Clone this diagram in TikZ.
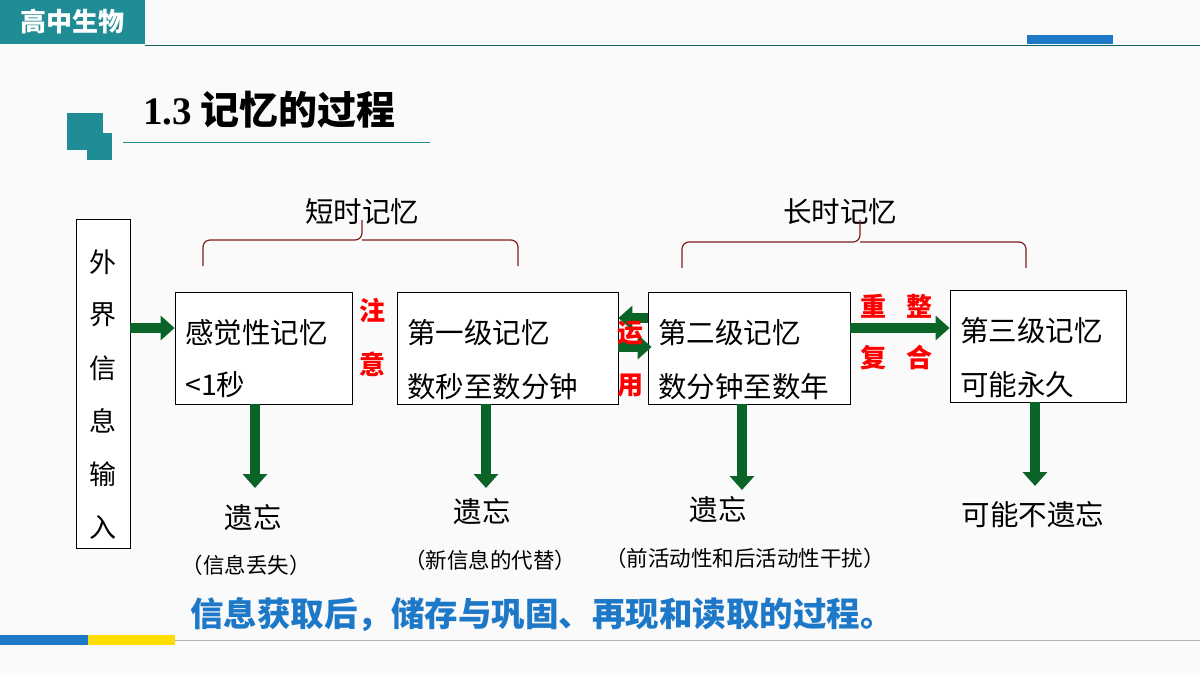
\documentclass[tikz,border=0pt]{standalone}
\usepackage{fontspec}
\setmainfont{Noto Sans CJK SC}
\newfontfamily\serifnum{Liberation Serif}
\usetikzlibrary{arrows.meta}
\definecolor{teal1}{RGB}{32,140,150}
\definecolor{arrowgreen}{RGB}{10,100,40}
\definecolor{bracered}{RGB}{130,30,30}
\definecolor{textblue}{RGB}{30,120,200}
\newcommand{\fs}[1]{\fontsize{#1}{#1}\selectfont}

\begin{document}
\begin{tikzpicture}[x=1pt,y=-1pt,
    memory/.style={draw=black, line width=0.8pt, fill=white},
    flow/.style={draw=arrowgreen, line width=10pt, -{Triangle[length=14pt,width=24pt]}},
    boxtext/.style={anchor=west, font=\fs{28.5}, inner sep=0pt},
    redword/.style={text=red, font=\fs{26}\bfseries, inner sep=0pt},
    forget/.style={font=\fs{28.5}, inner sep=0pt},
    cause/.style={font=\fs{21.5}, inner sep=0pt},
    brace/.style={draw=bracered, line width=1.2pt, rounded corners=7pt}
]
\useasboundingbox[fill=gray!4] (0,0) rectangle (1200,675);

% header
\fill[teal1] (0,0) rectangle (145,44);
\node[text=white, font=\fs{26}\bfseries] (subject) at (72,22) {高中生物};
\draw[teal1!70!black, line width=0.8pt] (145,45) -- (1200,45);
\fill[textblue] (1027,35) rectangle (1113,44);

% title
\fill[teal1] (67,113) rectangle (103,150);
\fill[teal1] (87,133) rectangle (112,160);
\node[anchor=west, font=\fs{39}\bfseries, inner sep=0pt] (title) at (143,110) {{\serifnum 1.3} 记忆的过程};
\draw[teal1, line width=0.8pt] (123,142) -- (430,142);

% input
\node[memory, minimum width=54pt, minimum height=329pt, inner sep=0pt] (input) at (103,383.5) {};
\foreach \ch [count=\k] in {外,界,信,息,输,入}
  \node[font=\fs{27}, inner sep=0pt] at (103,262+53*\k-53) {\ch};

% memory stages
\node[memory, minimum width=177pt, minimum height=112pt] (sense) at (263.5,348) {};
\node[memory, minimum width=221pt, minimum height=112pt] (first) at (507.5,348) {};
\node[memory, minimum width=202pt, minimum height=112pt] (second) at (749,348) {};
\node[memory, minimum width=176pt, minimum height=112pt] (third) at (1038,346) {};

% horizontal arrows
\draw[flow] (input.east |- 0,328) -- (sense.west |- 0,328);
\draw[flow] (second.west |- 0,318) -- (first.east |- 0,318);
\draw[flow] (first.east |- 0,347) -- ([xshift=4pt]second.west |- 0,347);
\draw[flow] (second.east |- 0,328) -- (third.west |- 0,328);

\node[boxtext] at (185,333) {感觉性记忆};
\node[boxtext] at (185,385) {<1秒};
\node[boxtext] at (407,333) {第一级记忆};
\node[boxtext] at (407,387) {数秒至数分钟};
\node[boxtext] at (658,333) {第二级记忆};
\node[boxtext] at (658,387) {数分钟至数年};
\node[boxtext] at (960,331) {第三级记忆};
\node[boxtext] at (960,385) {可能永久};

\node[redword] at (372,310) {注};
\node[redword] at (372,364) {意};
\node[redword] at (630,333) {运};
\node[redword] at (630,386) {用};
\node[redword] at (873,306) {重};
\node[redword] at (919,306) {整};
\node[redword] at (873,358) {复};
\node[redword] at (919,358) {合};

% forgetting
\node[forget] (f1) at (253,518) {遗忘};
\node[forget] (f2) at (482,512) {遗忘};
\node[forget] (f3) at (718,510) {遗忘};
\node[forget] (f4) at (1033,515) {可能不遗忘};
\node[cause] at (246,565) {（信息丢失）};
\node[cause] at (490,560) {（新信息的代替）};
\node[cause] at (745,558) {（前活动性和后活动性干扰）};

\draw[flow] (sense.south -| 255,0) -- (255,488);
\draw[flow] (first.south -| 486,0) -- (486,488);
\draw[flow] (second.south -| 742,0) -- (742,490);
\draw[flow] (third.south -| 1035,0) -- (1035,486);

% braces
\node[forget] (short) at (362,212) {短时记忆};
\draw[brace] (203,266) |- (362,240) -- (362,220);
\draw[brace] (362,240) -| (518,266);
\node[forget] (long) at (840,212) {长时记忆};
\draw[brace] (682,268) |- (860,242) -- (860,220);
\draw[brace] (860,242) -| (1026,268);

% summary
\node[text=textblue, font=\fs{33.5}\bfseries, inner sep=0pt] (summary) at (542,615) {信息获取后，储存与巩固、再现和读取的过程。};

% footer
\draw[gray!60, line width=0.8pt] (0,640) -- (1200,640);
\fill[textblue] (0,635) rectangle (88,645);
\fill[yellow!80!orange] (88,635) rectangle (175,645);
\end{tikzpicture}
\end{document}
